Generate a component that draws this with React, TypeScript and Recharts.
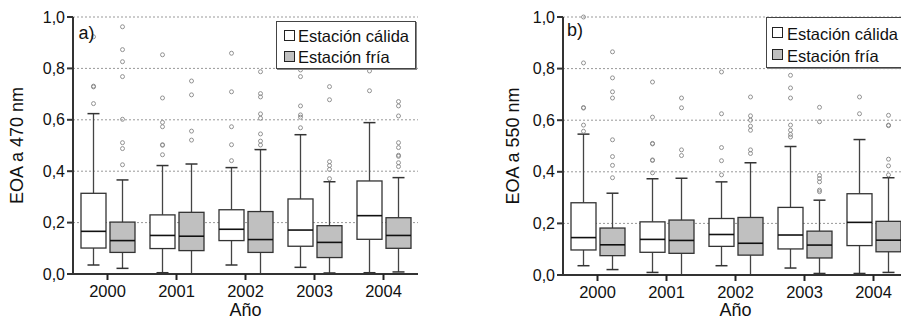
import { Bar, CartesianGrid, ComposedChart, XAxis, YAxis } from "recharts";

const FONT = '"Liberation Sans", Arial, Helvetica, sans-serif';

const years = ["2000", "2001", "2002", "2003", "2004"];
const yTicks = [0, 0.2, 0.4, 0.6, 0.8, 1.0];

// [min, Q1, mediana, Q3, max] por año
const calida470 = [
  [0.035, 0.101, 0.166, 0.314, 0.624],
  [0.005, 0.099, 0.15, 0.23, 0.422],
  [0.035, 0.13, 0.174, 0.25, 0.414],
  [0.026, 0.108, 0.171, 0.292, 0.542],
  [0.005, 0.135, 0.227, 0.362, 0.589],
];
const fria470 = [
  [0.022, 0.084, 0.13, 0.202, 0.366],
  [0.0, 0.091, 0.147, 0.24, 0.428],
  [0.0, 0.084, 0.134, 0.243, 0.484],
  [0.004, 0.064, 0.123, 0.188, 0.359],
  [0.008, 0.1, 0.15, 0.219, 0.375],
];
const calida470Out = [
  [0.923, 0.731, 0.728, 0.663],
  [0.853, 0.685, 0.59, 0.573, 0.503, 0.501, 0.464],
  [0.859, 0.709, 0.573, 0.503, 0.441],
  [0.794, 0.768, 0.654, 0.619, 0.61, 0.569],
  [0.79, 0.713],
];
const fria470Out = [
  [0.962, 0.873, 0.826, 0.768, 0.602, 0.511, 0.488, 0.425],
  [0.751, 0.697, 0.556, 0.521],
  [0.787, 0.702, 0.689, 0.623, 0.606, 0.545, 0.517, 0.502],
  [0.729, 0.678, 0.437, 0.422, 0.407, 0.371],
  [0.671, 0.654, 0.615, 0.511, 0.492, 0.462, 0.458, 0.433, 0.418],
];

const calida550 = [
  [0.036, 0.097, 0.145, 0.28, 0.546],
  [0.01, 0.088, 0.138, 0.206, 0.373],
  [0.036, 0.111, 0.157, 0.219, 0.361],
  [0.027, 0.101, 0.155, 0.262, 0.498],
  [0.006, 0.114, 0.204, 0.315, 0.525],
];
const fria550 = [
  [0.021, 0.075, 0.117, 0.182, 0.317],
  [0.0, 0.084, 0.134, 0.213, 0.375],
  [0.0, 0.077, 0.123, 0.223, 0.435],
  [0.006, 0.066, 0.116, 0.17, 0.29],
  [0.01, 0.09, 0.135, 0.208, 0.377],
];
const calida550Out = [
  [1.0, 0.822, 0.649, 0.647, 0.581, 0.557],
  [0.748, 0.612, 0.51, 0.508, 0.446, 0.444, 0.396],
  [0.787, 0.625, 0.494, 0.443, 0.388],
  [0.923, 0.774, 0.725, 0.686, 0.581, 0.561, 0.545, 0.535],
  [0.69, 0.625],
];
const fria550Out = [
  [0.865, 0.764, 0.71, 0.686, 0.524, 0.459, 0.425, 0.377],
  [0.686, 0.648, 0.485, 0.463],
  [0.69, 0.617, 0.6, 0.577, 0.561, 0.485, 0.471],
  [0.65, 0.594, 0.386, 0.374, 0.361, 0.329, 0.323],
  [0.619, 0.581, 0.579, 0.449, 0.423, 0.388],
];

function makeRows(calida: number[][], fria: number[][], calidaOut: number[][], friaOut: number[][]) {
  return years.map((year, i) => ({
    year,
    calida: calida[i],
    fria: fria[i],
    calidaOut: calidaOut[i],
    friaOut: friaOut[i],
    calidaMax: calida[i][4],
    friaMax: fria[i][4],
  }));
}

const rows470 = makeRows(calida470, fria470, calida470Out, fria470Out);
const rows550 = makeRows(calida550, fria550, calida550Out, fria550Out);

// the bar spans 0..max, so its own geometry gives the y scale
function BoxShape(props: any) {
  const { x, y, width, height, stats, outliers, fill } = props;
  const [min, q1, med, q3, max] = stats;
  const base = y + height;
  const px = (v: number) => base - (v / max) * height;
  const cx = x + width / 2;
  const cap = 6;
  return (
    <g>
      <line x1={cx} x2={cx} y1={px(max)} y2={px(q3)} stroke="#444" strokeWidth={1.3} />
      <line x1={cx} x2={cx} y1={px(q1)} y2={px(min)} stroke="#444" strokeWidth={1.3} />
      <line x1={cx - cap} x2={cx + cap} y1={px(max)} y2={px(max)} stroke="#333" strokeWidth={1.5} />
      <line x1={cx - cap} x2={cx + cap} y1={px(min)} y2={px(min)} stroke="#333" strokeWidth={1.5} />
      <rect x={x} y={px(q3)} width={width} height={px(q1) - px(q3)} fill={fill} stroke="#333" strokeWidth={1.3} />
      <line x1={x} x2={x + width} y1={px(med)} y2={px(med)} stroke="#111" strokeWidth={1.6} />
      {outliers.map((v: number, k: number) => (
        <circle key={k} cx={cx} cy={px(v)} r={2} fill="none" stroke="#888" strokeWidth={0.9} />
      ))}
    </g>
  );
}

type LegendProps = {
  left: number;
  top: number;
  width: number;
  height: number;
  swLeft: number;
  swTops: number[];
  swSize: number;
  textLeft: number;
  textMids: number[];
};

function BoxLegend(p: LegendProps) {
  const items = [
    { label: "Estación cálida", fill: "#fff" },
    { label: "Estación fría", fill: "#c0c0c0" },
  ];
  return (
    <div
      style={{
        position: "absolute",
        left: p.left,
        top: p.top,
        width: p.width,
        height: p.height,
        border: "1px solid #444",
        boxShadow: "1px 1px 0 #888",
        background: "#fff",
        boxSizing: "border-box",
      }}
    >
      {items.map((it, i) => (
        <div key={it.label}>
          <div
            style={{
              position: "absolute",
              left: p.swLeft,
              top: p.swTops[i],
              width: p.swSize,
              height: p.swSize,
              boxSizing: "border-box",
              border: "1px solid #222",
              background: it.fill,
            }}
          />
          <div
            style={{
              position: "absolute",
              left: p.textLeft,
              top: p.textMids[i] - 10,
              lineHeight: "20px",
              fontSize: 16.5,
              color: "#111",
              whiteSpace: "nowrap",
            }}
          >
            {it.label}
          </div>
        </div>
      ))}
    </div>
  );
}

type PanelProps = {
  rows: ReturnType<typeof makeRows>;
  yTitle: string;
  width: number;
  yAxisWidth: number;
  xAxisHeight: number;
  rightMargin: number;
  titleX: number;
};

function Panel({ rows, yTitle, width, yAxisWidth, xAxisHeight, rightMargin, titleX }: PanelProps) {
  const tickStyle = { fontSize: 16, fill: "#111", fontFamily: FONT };
  return (
    <ComposedChart
      width={width}
      height={320}
      data={rows}
      margin={{ top: 17, right: rightMargin, bottom: 0, left: 0 }}
      barSize={25}
      barGap={4}
    >
      <CartesianGrid vertical={false} stroke="#999" strokeDasharray="2 2" />
      <XAxis
        dataKey="year"
        height={xAxisHeight}
        tick={{ ...tickStyle, fontSize: 16.5 }}
        tickSize={6}
        tickMargin={5}
        tickLine={{ stroke: "#222", strokeWidth: 2 }}
        axisLine={{ stroke: "#333", strokeWidth: 2 }}
        label={{ value: "Año", position: "insideBottom", offset: 4, fontSize: 18, fill: "#111", fontFamily: FONT }}
      />
      <XAxis
        xAxisId="top"
        orientation="top"
        dataKey="year"
        height={0}
        tick={false}
        tickLine={false}
        axisLine={{ stroke: "#555", strokeWidth: 2 }}
      />
      <YAxis
        type="number"
        domain={[0, 1]}
        ticks={yTicks}
        width={yAxisWidth}
        tickFormatter={(v: number) => v.toFixed(1).replace(".", ",")}
        tick={tickStyle}
        tickSize={6}
        tickMargin={2}
        tickLine={{ stroke: "#333", strokeWidth: 2 }}
        axisLine={{ stroke: "#333", strokeWidth: 2 }}
        label={{
          value: yTitle,
          angle: -90,
          position: "insideLeft",
          offset: titleX,
          textAnchor: "middle",
          fontSize: 18,
          fill: "#111",
          fontFamily: FONT,
        }}
      />
      <YAxis
        yAxisId="right"
        orientation="right"
        type="number"
        domain={[0, 1]}
        width={0}
        tick={false}
        tickLine={false}
        axisLine={{ stroke: "#444", strokeWidth: 2 }}
      />
      <Bar
        dataKey="calidaMax"
        isAnimationActive={false}
        shape={(p: any) => <BoxShape {...p} stats={p.payload.calida} outliers={p.payload.calidaOut} fill="#fff" />}
      />
      <Bar
        dataKey="friaMax"
        isAnimationActive={false}
        shape={(p: any) => <BoxShape {...p} stats={p.payload.fria} outliers={p.payload.friaOut} fill="#c0c0c0" />}
      />
    </ComposedChart>
  );
}

const tagStyle = {
  position: "absolute" as const,
  fontSize: 18,
  lineHeight: "20px",
  color: "#111",
};

export default function App() {
  return (
    <div
      style={{
        position: "absolute",
        left: 0,
        top: 0,
        width: 901,
        height: 320,
        overflow: "hidden",
        background: "#fff",
        fontFamily: FONT,
      }}
    >
      <div style={{ position: "absolute", left: 0, top: 0 }}>
        <Panel rows={rows470} yTitle="EOA a 470 nm" width={450} yAxisWidth={73} xAxisHeight={46} rightMargin={32} titleX={17} />
      </div>
      <div style={{ position: "absolute", left: 450, top: 0 }}>
        <Panel rows={rows550} yTitle="EOA a 550 nm" width={460} yAxisWidth={113} xAxisHeight={45} rightMargin={2} titleX={63} />
      </div>
      <div style={{ ...tagStyle, left: 78.5, top: 22.5 }}>a)</div>
      <div style={{ ...tagStyle, left: 567, top: 20 }}>b)</div>
      <BoxLegend left={276} top={21} width={140} height={48} swLeft={7} swTops={[8, 29]} swSize={11} textLeft={21} textMids={[14, 35]} />
      <BoxLegend left={766} top={17} width={150} height={51} swLeft={5} swTops={[9, 31]} swSize={11} textLeft={20} textMids={[16, 38]} />
    </div>
  );
}
